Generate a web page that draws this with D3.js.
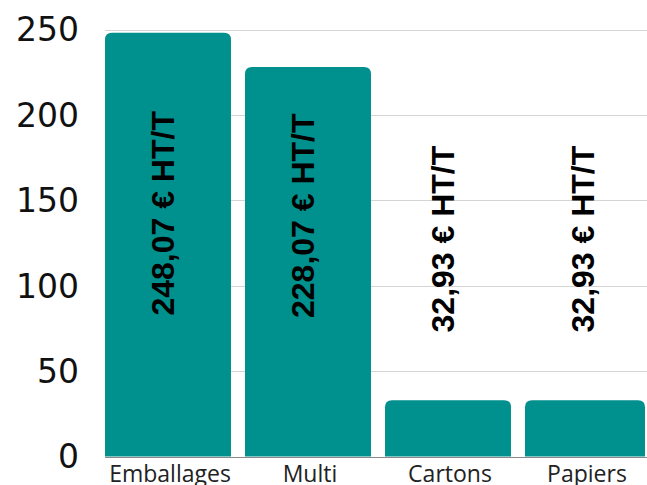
<!DOCTYPE html>
<html>
<head>
<meta charset="utf-8">
<script src="https://cdn.jsdelivr.net/npm/d3@7"></script>
<style>
  html, body { margin: 0; padding: 0; background: #fff; overflow: hidden; }
  svg { display: block; }
</style>
</head>
<body>
<div class="chart"></div>
<script>
const categories = ['Emballages', 'Multi', 'Cartons', 'Papiers'];
const values = [248.07, 228.07, 32.93, 32.93];
const valueLabels = ['248,07 € HT/T', '228,07 € HT/T', '32,93 € HT/T', '32,93 € HT/T'];
const yTicks = [0, 50, 100, 150, 200, 250];

const W = 647, H = 485;
const margin = {top: 29.5, left: 105, bottom: 28.5};
const plotRight = 645;
const barColor = '#00908d';
const radius = 7;

const svg = d3.select('.chart').append('svg')
    .attr('width', W)
    .attr('height', H);

const yScale = d3.scaleLinear()
    .domain([0, 250])
    .range([H - margin.bottom, margin.top]);

const xScale = d3.scaleBand()
    .domain(categories)
    .range([margin.left, margin.left + 546])
    .paddingInner(0.1)
    .paddingOuter(0);

// gridlines
svg.append('g')
  .selectAll('line')
  .data(yTicks.filter(d => d > 0))
  .join('line')
    .attr('x1', margin.left)
    .attr('x2', W)
    .attr('y1', d => Math.round(yScale(d)) + 0.5)
    .attr('y2', d => Math.round(yScale(d)) + 0.5)
    .attr('stroke', '#d4d4d4')
    .attr('stroke-width', 1);

// baseline
svg.append('line')
    .attr('x1', margin.left)
    .attr('x2', W)
    .attr('y1', Math.round(yScale(0)) + 0.5)
    .attr('y2', Math.round(yScale(0)) + 0.5)
    .attr('stroke', '#8a8a8a');

// y tick labels
svg.append('g')
  .selectAll('text')
  .data(yTicks)
  .join('text')
    .attr('x', 79)
    .attr('y', d => yScale(d))
    .attr('dy', '0.36em')
    .attr('text-anchor', 'end')
    .attr('font-family', 'DejaVu Sans, sans-serif')
    .attr('font-size', 33)
    .attr('fill', '#111')
    .text(d => d);

// bars, top corners rounded
const barPath = function (d, i) {
  const x0 = xScale(categories[i]);
  const x1 = Math.min(x0 + xScale.bandwidth(), plotRight);
  const y0 = yScale(d);
  const yb = yScale(0);
  const r = radius;
  return `M${x0},${yb}V${y0 + r}Q${x0},${y0} ${x0 + r},${y0}` +
    `H${x1 - r}Q${x1},${y0} ${x1},${y0 + r}V${yb}Z`;
};

svg.append('g')
  .selectAll('path')
  .data(values)
  .join('path')
    .attr('d', barPath)
    .attr('fill', barColor);

// value labels, rotated
svg.append('g')
  .selectAll('text')
  .data(values)
  .join('text')
    .attr('transform', (d, i) => {
      const cx = xScale(categories[i]) + xScale.bandwidth() / 2 - 6;
      const cy = yScale(125 + d * 0.07);
      return `translate(${cx},${cy}) rotate(-90)`;
    })
    .attr('dy', '0.36em')
    .attr('text-anchor', 'middle')
    .attr('font-family', 'Liberation Sans, Arial, sans-serif')
    .attr('font-weight', 'bold')
    .attr('font-size', 32)
    .attr('fill', '#000')
    .text((d, i) => valueLabels[i]);

// category labels
svg.append('g')
  .selectAll('text')
  .data(categories)
  .join('text')
    .attr('x', (d, i) => {
      const x0 = xScale(d);
      const x1 = Math.min(x0 + xScale.bandwidth(), plotRight);
      return (x0 + x1) / 2 + 2;
    })
    .attr('y', 482)
    .attr('text-anchor', 'middle')
    .attr('font-family', 'Open Sans, sans-serif')
    .attr('font-size', 23)
    .attr('fill', '#222')
    .text(d => d);
</script>
</body>
</html>
